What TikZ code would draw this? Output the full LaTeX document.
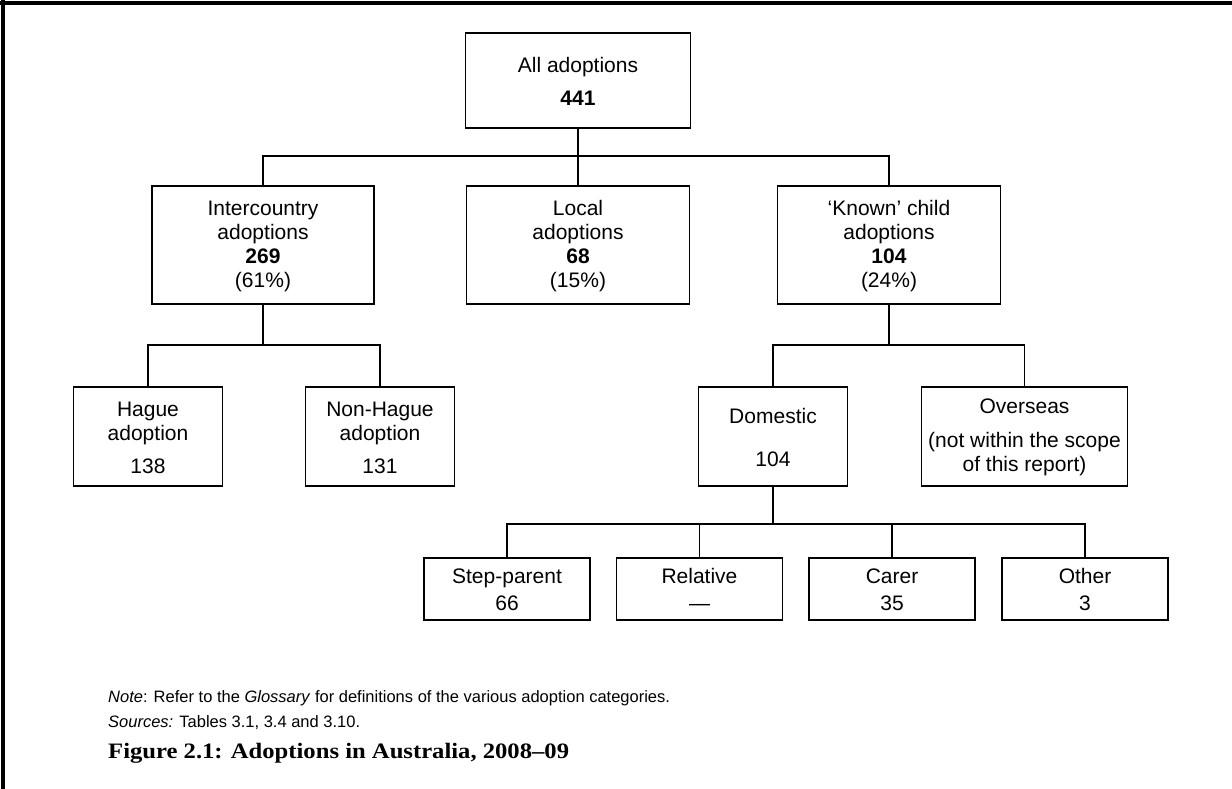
\documentclass[tikz,border=0pt]{standalone}
\usepackage{fontspec}
\setmainfont{Liberation Sans}
\newfontfamily\captionfont[FakeStretch=1.12]{Liberation Serif}
\tikzset{
  catbox/.style={draw, line width=1.5pt, align=center, inner sep=0pt,
    font=\fontsize{21}{24}\selectfont},
  link/.style={line width=1.5pt},
  footnote/.style={anchor=west, inner sep=0pt, font=\fontsize{16.5}{19}\selectfont},
}
\begin{document}
\begin{tikzpicture}[x=1pt,y=-1pt]
\useasboundingbox (0,0) rectangle (1232,789);
% frame
\draw[line width=3.5pt] (0,3) -- (1232,3);
\draw[line width=3.5pt] (3,0) -- (3,789);
% top level
\node[catbox, minimum width=225, minimum height=95] (all) at (578,80.5) {\strut All adoptions\\[9pt]\textbf{441}};
\node[catbox, minimum width=222, minimum height=118] (inter) at (263,245) {\strut Intercountry\\adoptions\\\textbf{269}\\(61\%)};
\node[catbox, minimum width=223, minimum height=118] (local) at (578,245) {\strut Local\\adoptions\\\textbf{68}\\(15\%)};
\node[catbox, minimum width=223, minimum height=118] (known) at (889,245) {\strut `Known' child\\adoptions\\\textbf{104}\\(24\%)};
% second level
\node[catbox, minimum width=149, minimum height=99] (hague) at (148,436.5) {\strut Hague\\adoption\\[9pt]138};
\node[catbox, minimum width=149, minimum height=99] (nonhague) at (380,436.5) {\strut Non-Hague\\adoption\\[9pt]131};
\node[catbox, minimum width=149, minimum height=99] (domestic) at (773,436.5) {\strut Domestic\\[19pt]104};
\node[catbox, minimum width=206, minimum height=99] (overseas) at (1024.5,436.5) {\strut Overseas\\[10pt](not within the scope\\of this report)};
% domestic breakdown
\node[catbox, minimum width=166, minimum height=62] (step) at (507,589) {\strut Step-parent\\[3pt]66};
\node[catbox, minimum width=166, minimum height=62] (relative) at (699.5,589) {\strut Relative\\[3pt]---};
\node[catbox, minimum width=166, minimum height=62] (carer) at (892,589) {\strut Carer\\[3pt]35};
\node[catbox, minimum width=166, minimum height=62] (other) at (1085,589) {\strut Other\\[3pt]3};
% connectors
\coordinate (top bar) at (578,156);
\draw[link] (all.south) -- (top bar);
\draw[link] (inter.north) |- (top bar) -| (known.north);
\draw[link] (top bar) -- (local.north);
\coordinate (inter bar) at (263,345);
\draw[link] (inter.south) -- (inter bar);
\draw[link] (hague.north) |- (inter bar) -| (nonhague.north);
\coordinate (known bar) at (889,345);
\draw[link] (known.south) -- (known bar);
\draw[link] (domestic.north) |- (known bar) -| (overseas.north);
\coordinate (dom bar) at (773,524);
\draw[link] (domestic.south) -- (dom bar);
\draw[link] (step.north) |- (dom bar) -| (other.north);
\draw[link] (relative.north) -- (relative.north |- dom bar);
\draw[link] (carer.north) -- (carer.north |- dom bar);
% notes and caption
\node[footnote] (note) at (108,698) {\textit{Note}: Refer to the \textit{Glossary} for definitions of the various adoption categories.};
\node[footnote] (sources) at (108,723) {\textit{Sources:} Tables 3.1, 3.4 and 3.10.};
\node[anchor=west, inner sep=0pt, font=\captionfont\bfseries\fontsize{22}{24}\selectfont] (caption) at (108,753) {Figure 2.1: Adoptions in Australia, 2008\textendash 09};
\end{tikzpicture}
\end{document}
